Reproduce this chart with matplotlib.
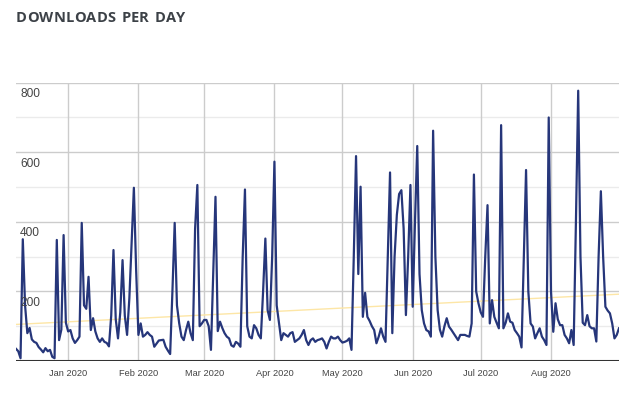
import numpy as np
import pandas as pd
import matplotlib
matplotlib.use('Agg')
import matplotlib.pyplot as plt
import matplotlib.dates as mdates
import matplotlib.transforms as mtransforms

# Downloads par jour (09/12/2019 -> 31/08/2020)
start_date = '2019-12-09'
downloads = [
    35, 28, 8, 350, 160, 80, 95, 62, 55, 52,
    40, 33, 25, 37, 28, 32, 12, 8, 348, 60,
    90, 362, 110, 85, 89, 65, 52, 60, 70, 397,
    160, 150, 242, 89, 123, 85, 65, 55, 65, 55,
    52, 42, 130, 319, 120, 65, 140, 290, 130, 75,
    180, 340, 498, 260, 75, 108, 70, 75, 83, 75,
    70, 41, 50, 59, 60, 61, 41, 30, 20, 200,
    397, 160, 108, 70, 60, 89, 113, 80, 60, 380,
    506, 100, 108, 118, 118, 100, 32, 250, 472, 86,
    113, 95, 80, 70, 65, 45, 41, 55, 50, 41,
    300, 493, 100, 70, 65, 103, 94, 75, 65, 200,
    352, 146, 118, 300, 573, 160, 110, 60, 80, 75,
    70, 80, 83, 55, 60, 65, 75, 89, 60, 46,
    60, 65, 55, 60, 62, 65, 55, 36, 55, 70,
    65, 65, 70, 60, 53, 55, 58, 65, 32, 300,
    589, 250, 501, 127, 196, 127, 115, 100, 89, 51,
    70, 94, 70, 55, 300, 542, 80, 300, 420, 480,
    491, 380, 132, 300, 506, 156, 400, 618, 250, 146,
    108, 89, 85, 70, 662, 300, 146, 90, 70, 100,
    123, 99, 90, 80, 70, 60, 75, 75, 75, 72,
    70, 108, 536, 200, 166, 140, 127, 300, 448, 108,
    175, 127, 110, 94, 678, 94, 110, 137, 113, 110,
    89, 80, 70, 39, 300, 549, 200, 108, 99, 65,
    80, 94, 70, 60, 46, 700, 200, 84, 166, 120,
    103, 103, 75, 65, 51, 89, 46, 400, 777, 300,
    110, 103, 132, 100, 94, 94, 56, 300, 488, 300,
    156, 145, 137, 108, 65, 75, 94,
]
dates = pd.date_range(start_date, periods=len(downloads), freq='D')
y_ticks = [0, 200, 400, 600, 800]
month_ticks = pd.date_range('2020-01-01', '2020-08-01', freq='MS')
title = 'DOWNLOADS PER DAY'

fig = plt.figure(figsize=(6.37, 3.95), dpi=100)
ax = fig.add_axes([16/637, 1 - 361/395, (619 - 16)/637, (361 - 82.7)/395])

# droite de tendance (regression lineaire)
t = np.arange(len(downloads))
coef = np.polyfit(t, downloads, 1)
ax.plot(dates, np.polyval(coef, t), color='#fde6a6', lw=1, zorder=2)

ax.plot(dates, downloads, color='#26367a', lw=1.6, zorder=3,
        solid_joinstyle='round')

ax.set_xlim(dates[0], dates[-1])
ax.set_ylim(0, 800)

# grille
for v in [100, 300, 500, 700]:
    ax.axhline(v, color='#ebebeb', lw=1, zorder=0)
for v in y_ticks[1:]:
    ax.axhline(v, color='#cccccc', lw=1, zorder=1)
for d in month_ticks:
    ax.axvline(d, color='#cccccc', lw=1, zorder=1)
ax.axhline(0, color='#333333', lw=1.5, zorder=4)

for s in ax.spines.values():
    s.set_visible(False)
ax.set_yticks([])
ax.set_xticks(month_ticks)
ax.set_xticklabels([d.strftime('%b %Y') for d in month_ticks],
                   fontsize=6.7, color='#444444', family='Liberation Sans')
ax.tick_params(axis='x', length=0, pad=6)

# etiquettes y a l'interieur du graphique
trans = mtransforms.blended_transform_factory(ax.transAxes, ax.transData)
for v in y_ticks[1:]:
    ax.annotate(str(v), xy=(0, v), xycoords=trans, xytext=(3, -4),
                textcoords='offset points', ha='left', va='top',
                fontsize=8.6, color='#444444', family='Liberation Sans')

# titre avec espacement des lettres (lettre par lettre)
renderer = fig.canvas.get_renderer()
tprops = dict(fontsize=10.5, fontweight='bold', color='#3c4147',
              family='Open Sans', va='center', ha='left')
widths = []
for ch in title:
    tt = fig.text(0, 0, ch if ch != ' ' else 'I', **tprops)
    w = tt.get_window_extent(renderer).width
    if ch == ' ':
        w = w * 1.1
    widths.append(w)
    tt.remove()
target = 185 - 16
spacing = (target - sum(widths)) / (len(title) - 1)
x = 16.0
for ch, w in zip(title, widths):
    if ch != ' ':
        fig.text(x / 637, 1 - 18/395, ch, **tprops)
    x += w + spacing

fig.savefig('out.png', dpi=100)
